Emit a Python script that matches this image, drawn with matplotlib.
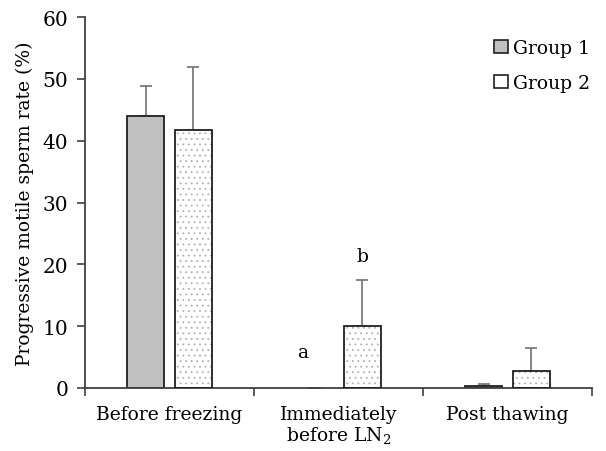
import numpy as np
import matplotlib.pyplot as plt
import matplotlib as mpl
from matplotlib.patches import Patch

mpl.rcParams['font.family'] = ['DejaVu Serif']
mpl.rcParams['mathtext.fontset'] = 'dejavuserif'
mpl.rcParams['hatch.linewidth'] = 0.6

# data
categories = ["Before freezing", "Immediately\nbefore LN$_{2}$", "Post thawing"]
group1 = [44.0, 0.0, 0.3]
group1_err = [4.8, np.nan, 0.3]
group2 = [41.8, 10.0, 2.8]
group2_err = [10.1, 7.4, 3.7]
letters = ["a", "b"]
letter_y = [5.8, 21.3]

x = np.arange(1, len(categories) + 1)
w = 0.22
off = 0.142

fig = plt.figure(figsize=(6.06, 4.52), dpi=100)
ax = fig.add_axes([85/606, 1 - 389/452, 507/606, 371/452])

lw1 = [1.3 if v > 0 else 0 for v in group1]
ax.bar(x - off, group1, w, color='#c0c0c0', edgecolor='#202020', linewidth=lw1, zorder=2)
# dotted fill drawn in light grey, outline on top
ax.bar(x + off, group2, w, color='white', edgecolor='#b0b0b0', linewidth=0,
       hatch='...', zorder=2)
ax.bar(x + off, group2, w, fill=False, edgecolor='#202020', linewidth=1.3, zorder=3)

# upward-only error bars
ax.errorbar(x - off, group1, yerr=[np.zeros(3), group1_err], fmt='none',
            ecolor='#707070', elinewidth=1.2, capsize=4, capthick=1.2, zorder=1)
ax.errorbar(x + off, group2, yerr=[np.zeros(3), group2_err], fmt='none',
            ecolor='#707070', elinewidth=1.2, capsize=4, capthick=1.2, zorder=1)

ax.text(2 - 0.21, letter_y[0], letters[0], ha='center', va='center', fontsize=13.5)
ax.text(2 + off, letter_y[1], letters[1], ha='center', va='center', fontsize=13.5)

ax.set_xlim(0.5, 3.5)
ax.set_ylim(0, 60)
ax.set_yticks(range(0, 61, 10))
ax.set_xticks(x)
ax.set_xticklabels(categories, fontsize=13.5, linespacing=1.1)
ax.set_xticks([0.5, 1.5, 2.5, 3.5], minor=True)
ax.tick_params(axis='x', which='major', length=0, pad=12)
ax.tick_params(axis='x', which='minor', length=6, width=1.2, color='#404040')
ax.tick_params(axis='y', length=6, width=1.2, color='#404040', labelsize=14.5, pad=6)
ax.set_ylabel("Progressive motile sperm rate (%)", fontsize=13.5, labelpad=6)

for s in ['top', 'right']:
    ax.spines[s].set_visible(False)
for s in ['left', 'bottom']:
    ax.spines[s].set_linewidth(1.3)
    ax.spines[s].set_color('#404040')

handles = [Patch(facecolor='#c0c0c0', edgecolor='#202020', linewidth=1.2, label='Group 1'),
           Patch(facecolor='white', edgecolor='#202020', linewidth=1.2, label='Group 2')]
ax.legend(handles=handles, loc='upper right', bbox_to_anchor=(1.03, 0.985), frameon=False,
          fontsize=13.5, handlelength=0.7, handleheight=0.7, handletextpad=0.3,
          labelspacing=0.9)

fig.savefig('out.png', dpi=100)
